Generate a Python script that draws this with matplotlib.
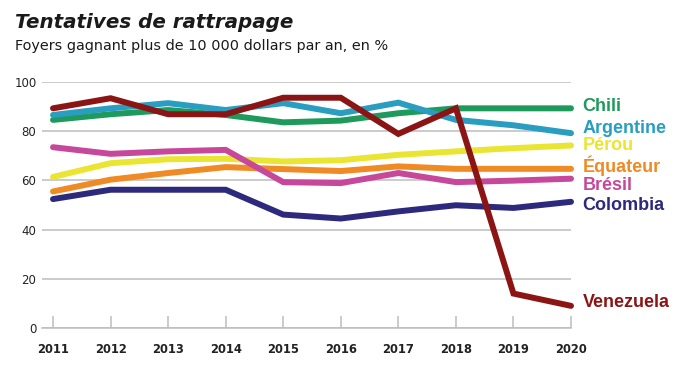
import matplotlib
matplotlib.use("Agg")
import matplotlib.pyplot as plt

# Valeurs (% de foyers > 10 000 $/an)
years = [2011, 2012, 2013, 2014, 2015, 2016, 2017, 2018, 2019, 2020]
chili = [84.6, 86.9, 88.6, 86.6, 83.6, 84.3, 87.3, 89.3, 89.3, 89.3]
argentine = [86.6, 89.3, 91.4, 88.6, 91.4, 87.3, 91.6, 84.6, 82.4, 79.2]
perou = [61.4, 67.0, 68.6, 68.8, 67.7, 68.2, 70.4, 71.8, 73.1, 74.2]
equateur = [55.5, 60.3, 63.0, 65.4, 64.6, 63.8, 65.7, 64.7, 64.7, 64.7]
bresil = [73.5, 70.8, 71.8, 72.4, 59.3, 58.9, 63.0, 59.3, 59.9, 60.7]
colombia = [52.4, 56.2, 56.2, 56.2, 46.1, 44.5, 47.4, 49.9, 48.8, 51.3]
venezuela = [89.3, 93.4, 86.9, 86.9, 93.6, 93.6, 78.9, 89.3, 14.0, 9.0]

series = [
    ("Chili", chili, "#1e9a5c", 90.2),
    ("Argentine", argentine, "#2a9ec0", 81.3),
    ("Pérou", perou, "#e9e532", 74.0),
    ("Équateur", equateur, "#f08a24", 65.8),
    ("Brésil", bresil, "#c7489b", 58.1),
    ("Colombia", colombia, "#2d2a7e", 49.6),
    ("Venezuela", venezuela, "#8b1515", 10.2),
]

fig = plt.figure(figsize=(6.8, 3.65), dpi=100)
ax = fig.add_axes([42 / 680, 37 / 365, 529 / 680, 246 / 365])

for name, vals, col, ylab in series:
    ax.plot(years, vals, color=col, linewidth=4.3, solid_capstyle="round",
            solid_joinstyle="miter", clip_on=False, zorder=3)
    ax.text(2020.2, ylab, name, color=col, fontsize=13, fontweight="bold",
            family="Liberation Sans", va="center", ha="left")

ax.set_xlim(2011 - 11 / 57.5, 2020)
ax.set_ylim(0, 100)
ax.set_yticks([0, 20, 40, 60, 80, 100])
ax.set_xticks(years)
ax.set_xticklabels([str(y) for y in years], fontsize=8.3, fontweight="bold", color="#222222")
ax.set_yticklabels(["0", "20", "40", "60", "80", "100"], fontsize=8.5, color="#222222")

ax.grid(axis="y", color="#bdbdbd", linewidth=1.1)
ax.set_axisbelow(True)
for s in ["top", "right", "left"]:
    ax.spines[s].set_visible(False)
ax.spines["bottom"].set_color("#bdbdbd")
ax.spines["bottom"].set_linewidth(1.1)
ax.tick_params(axis="x", direction="in", length=8.5, width=1.1, color="#bdbdbd", pad=11)
ax.tick_params(axis="y", length=0, pad=4)

fig.text(15 / 680, 1 - 23 / 365, "Tentatives de rattrapage", fontsize=14.3, fontweight="heavy",
         style="italic", color="#1a1a1a", va="center", ha="left")
fig.text(15 / 680, 1 - 46 / 365, "Foyers gagnant plus de 10 000 dollars par an, en %",
         fontsize=10.4, color="#1a1a1a", va="center", ha="left")

fig.savefig("out.png", dpi=100)
